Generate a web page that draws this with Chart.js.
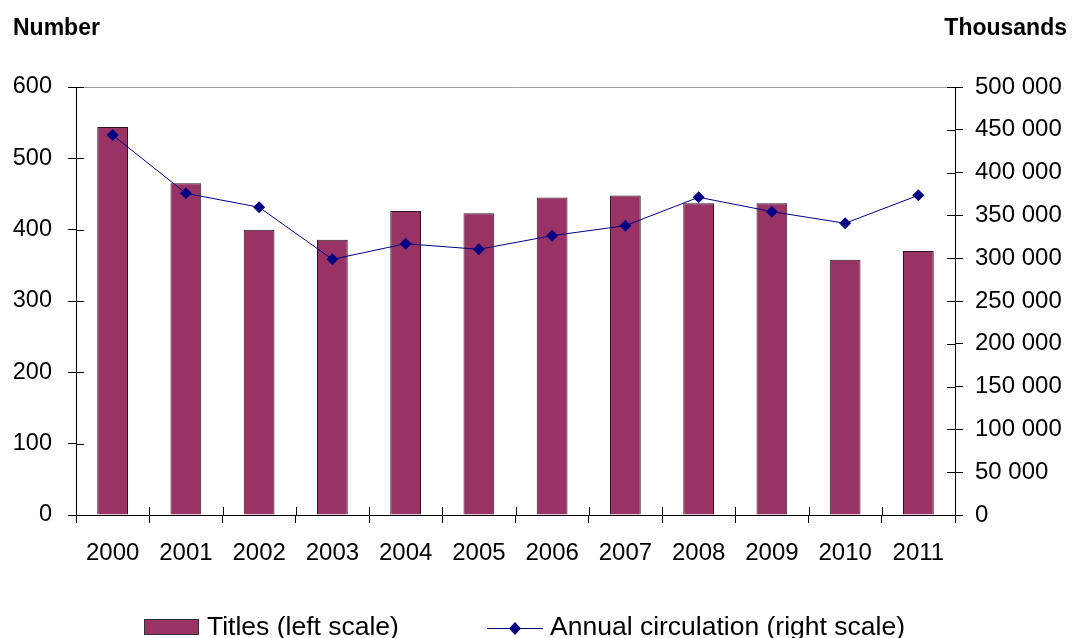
<!DOCTYPE html>
<html>
<head>
<meta charset="utf-8">
<script src="https://cdn.jsdelivr.net/npm/chart.js@4.4.0/dist/chart.umd.min.js"></script>
<style>
  body { margin: 0; background: #fff; }
  #wrap { width: 1073px; height: 638px; }
</style>
</head>
<body>
<div id="wrap"><canvas id="mycanvas" width="1073" height="638"></canvas></div>
<script>
var years = ['2000','2001','2002','2003','2004','2005','2006','2007','2008','2009','2010','2011'];
var titles = [544, 465, 400, 386, 426, 423, 445, 448, 437, 437, 358, 370];
var circulation = [443900, 375800, 359500, 298700, 316900, 310400, 326300, 338000, 371200, 354400, 340800, 373500];
var leftTicks = [0, 100, 200, 300, 400, 500, 600];
var rightTicks = [0, 50000, 100000, 150000, 200000, 250000, 300000, 350000, 400000, 450000, 500000];

var FONT = '"Liberation Sans", Arial, sans-serif';

function spaced(v) {
    return String(v).replace(/\B(?=(\d{3})+(?!\d))/g, ' ');
}

// ticks crossing the axis lines + top border + header texts + legend
var extras = {
    id: 'extras',
    afterDraw: function(chart) {
        var ctx = chart.ctx;
        var a = chart.chartArea;
        var sx = chart.scales.x, sy = chart.scales.y, sy1 = chart.scales.y1;
        ctx.save();
        // top border
        ctx.strokeStyle = '#a0a0a0';
        ctx.lineWidth = 1;
        ctx.beginPath();
        ctx.moveTo(a.left, a.top + 0.5);
        ctx.lineTo(a.right, a.top + 0.5);
        ctx.stroke();

        ctx.strokeStyle = '#000';
        ctx.beginPath();
        leftTicks.forEach(function(v) {
            var y = Math.round(sy.getPixelForValue(v)) + 0.5;
            ctx.moveTo(a.left, y); ctx.lineTo(a.left + 8, y);
        });
        rightTicks.forEach(function(v) {
            var y = Math.round(sy1.getPixelForValue(v)) + 0.5;
            ctx.moveTo(a.right - 8, y); ctx.lineTo(a.right, y);
        });
        var half = (sx.getPixelForValue(1) - sx.getPixelForValue(0)) / 2;
        for (var i = 0; i <= years.length; i++) {
            var x = Math.round(sx.getPixelForValue(i) - half) + 0.5;
            ctx.moveTo(x, a.bottom); ctx.lineTo(x, a.bottom - 8);
        }
        ctx.stroke();

        // header texts
        ctx.fillStyle = '#000';
        ctx.font = 'bold 23px ' + FONT;
        ctx.textBaseline = 'alphabetic';
        ctx.textAlign = 'left';
        ctx.fillText('Number', 13, 35);
        ctx.textAlign = 'right';
        ctx.fillText('Thousands', 1067, 35);

        // legend
        var ds = chart.data.datasets;
        ctx.textAlign = 'left';
        ctx.font = '26.5px ' + FONT;
        ctx.fillStyle = ds[0].backgroundColor;
        ctx.fillRect(144, 619, 54, 15);
        ctx.strokeStyle = '#333';
        ctx.strokeRect(144.5, 619.5, 54, 15);
        ctx.fillStyle = '#000';
        ctx.fillText(ds[0].label, 207, 635);

        ctx.strokeStyle = ds[1].borderColor;
        ctx.beginPath();
        ctx.moveTo(487, 628.5); ctx.lineTo(543, 628.5);
        ctx.stroke();
        ctx.fillStyle = ds[1].pointBackgroundColor;
        ctx.beginPath();
        ctx.moveTo(515, 622); ctx.lineTo(521, 628.5); ctx.lineTo(515, 635); ctx.lineTo(509, 628.5);
        ctx.closePath();
        ctx.fill();
        ctx.fillStyle = '#000';
        ctx.fillText(ds[1].label, 550, 635);
        ctx.restore();
    }
};

var chartdata = {
    labels: years,
    datasets: [
        {
            type: 'line',
            label: 'Annual circulation (right scale)',
            data: circulation,
            yAxisID: 'y1',
            borderColor: '#000080',
            borderWidth: 1,
            pointStyle: 'rectRot',
            pointRadius: 6,
            pointBackgroundColor: '#000080',
            pointBorderColor: '#000080',
            pointBorderWidth: 0,
            tension: 0,
            order: 0
        },
        {
            type: 'bar',
            label: 'Titles (left scale)',
            data: titles,
            yAxisID: 'y',
            backgroundColor: '#993366',
            borderColor: '#2a1a22',
            borderWidth: 1,
            barPercentage: 0.42,
            categoryPercentage: 1,
            order: 1
        }
    ]
};
// legend order: bars first
chartdata.datasets.reverse();

var ctx = document.getElementById('mycanvas');
var barGraph = new Chart(ctx, {
    data: chartdata,
    plugins: [extras],
    options: {
        responsive: false,
        animation: false,
        layout: { padding: { top: 87, left: 0, right: 0, bottom: 0 } },
        plugins: { legend: { display: false }, tooltip: { enabled: false } },
        scales: {
            x: {
                grid: { offset: true, drawOnChartArea: false, tickLength: 8, color: '#000' },
                border: { color: '#000' },
                ticks: { color: '#000', font: { family: FONT, size: 24 }, padding: 16, maxRotation: 0 },
                afterFit: function(s) { s.height = 123; }
            },
            y: {
                position: 'left',
                min: 0, max: 600,
                afterBuildTicks: function(s) { s.ticks = leftTicks.map(function(v) { return { value: v }; }); },
                grid: { drawOnChartArea: false, tickLength: 8, color: '#000' },
                border: { color: '#000' },
                ticks: { color: '#000', font: { family: FONT, size: 23.5 }, padding: 16 },
                afterFit: function(s) { s.width = 76; }
            },
            y1: {
                position: 'right',
                min: 0, max: 500000,
                afterBuildTicks: function(s) { s.ticks = rightTicks.map(function(v) { return { value: v }; }); },
                grid: { drawOnChartArea: false, tickLength: 8, color: '#000' },
                border: { color: '#000' },
                ticks: { color: '#000', font: { family: FONT, size: 24 }, padding: 12,
                         callback: function(v) { return spaced(v); } },
                afterFit: function(s) { s.width = 118; }
            }
        }
    }
});
</script>
</body>
</html>
